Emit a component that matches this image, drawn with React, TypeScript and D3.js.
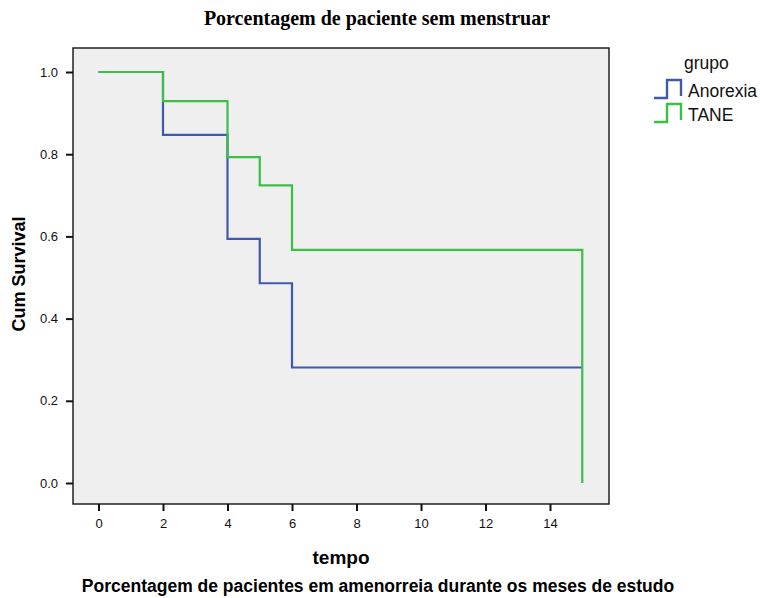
import React, { useRef, useEffect } from 'react';
import * as d3 from 'd3';

const groups = ['Anorexia', 'TANE'];
const colors = ['#4058b0', '#3cbf48'];
// step times and cumulative survival after each step
const anorexiaTime = [0, 2, 4, 5, 6, 15];
const anorexiaSurv = [1.0, 0.847, 0.594, 0.486, 0.281, 0.281];
const taneTime = [0, 2, 4, 5, 6, 15, 15];
const taneSurv = [1.0, 0.929, 0.793, 0.724, 0.567, 0.567, 0.0];
const xTicks = [0, 2, 4, 6, 8, 10, 12, 14];
const yTicks = [0.0, 0.2, 0.4, 0.6, 0.8, 1.0];

const App = () => {
    const ref = useRef<SVGSVGElement>(null);

    useEffect(() => {
        const svg = d3.select(ref.current);
        svg.selectAll('*').remove();

        const frame = { left: 73, top: 48, right: 609, bottom: 504 };
        const x = d3.scaleLinear().domain([0, 14]).range([98.5, 550]);
        const y = d3.scaleLinear().domain([0, 1]).range([483, 72]);

        // plot background
        svg.append('rect')
            .attr('x', frame.left).attr('y', frame.top)
            .attr('width', frame.right - frame.left)
            .attr('height', frame.bottom - frame.top)
            .attr('fill', '#efefef')
            .attr('stroke', '#222').attr('stroke-width', 1.5);

        // axes
        const xAxis = svg.append('g')
            .attr('transform', `translate(0,${frame.bottom})`)
            .call(d3.axisBottom(x).tickValues(xTicks).tickSize(7).tickPadding(8).tickFormat(d3.format('d')));
        const yAxis = svg.append('g')
            .attr('transform', `translate(${frame.left},0)`)
            .call(d3.axisLeft(y).tickValues(yTicks).tickSize(7).tickPadding(8).tickFormat(d3.format('.1f')));
        [xAxis, yAxis].forEach(a => {
            a.select('.domain').remove();
            a.selectAll('line').attr('stroke', '#111').attr('stroke-width', 2);
            a.selectAll('text').attr('font-family', 'Liberation Sans, Arial, sans-serif')
                .attr('font-size', 13).attr('fill', '#111');
        });

        // survival curves
        const series = [
            anorexiaTime.map((t, i) => [t, anorexiaSurv[i]]),
            taneTime.map((t, i) => [t, taneSurv[i]])
        ];
        const line = d3.line<number[]>()
            .x(d => x(d[0]))
            .y(d => y(d[1]))
            .curve(d3.curveStepAfter);
        series.forEach((s, i) => {
            svg.append('path')
                .datum(s)
                .attr('fill', 'none')
                .attr('stroke', colors[i])
                .attr('stroke-width', 2.2)
                .attr('d', line);
        });

        // titles
        svg.append('text')
            .attr('x', 377).attr('y', 25)
            .attr('text-anchor', 'middle')
            .attr('font-family', 'Liberation Serif, Times New Roman, serif')
            .attr('font-weight', 'bold').attr('font-size', 20)
            .text('Porcentagem de paciente sem menstruar');

        svg.append('text')
            .attr('x', 341).attr('y', 564)
            .attr('text-anchor', 'middle')
            .attr('font-family', 'Liberation Sans, Arial, sans-serif')
            .attr('font-weight', 'bold').attr('font-size', 19)
            .text('tempo');

        svg.append('text')
            .attr('transform', 'translate(25,274) rotate(-90)')
            .attr('text-anchor', 'middle')
            .attr('font-family', 'Liberation Sans, Arial, sans-serif')
            .attr('font-weight', 'bold').attr('font-size', 18)
            .text('Cum Survival');

        svg.append('text')
            .attr('x', 378).attr('y', 592)
            .attr('text-anchor', 'middle')
            .attr('font-family', 'Liberation Sans, Arial, sans-serif')
            .attr('font-weight', 'bold').attr('font-size', 17.5)
            .text('Porcentagem de pacientes em amenorreia durante os meses de estudo');

        // legend
        const legend = svg.append('g').attr('font-family', 'Liberation Sans, Arial, sans-serif').attr('font-size', 17.5);
        legend.append('text').attr('x', 684).attr('y', 69).attr('fill', '#111').text('grupo');
        groups.forEach((g, i) => {
            const ly = 98 + i * 24;
            legend.append('path')
                .attr('d', `M654,${ly} H667 V${ly - 18} H681 V${ly - 2}`)
                .attr('fill', 'none').attr('stroke', colors[i]).attr('stroke-width', 2.4);
            legend.append('text').attr('x', 688).attr('y', ly - 1).attr('fill', '#111').text(g);
        });
    }, []);

    return (
        <svg ref={ref} width={760} height={598}
            style={{ position: 'absolute', left: 0, top: 0, background: '#fff' }} />
    );
};

export default App;
